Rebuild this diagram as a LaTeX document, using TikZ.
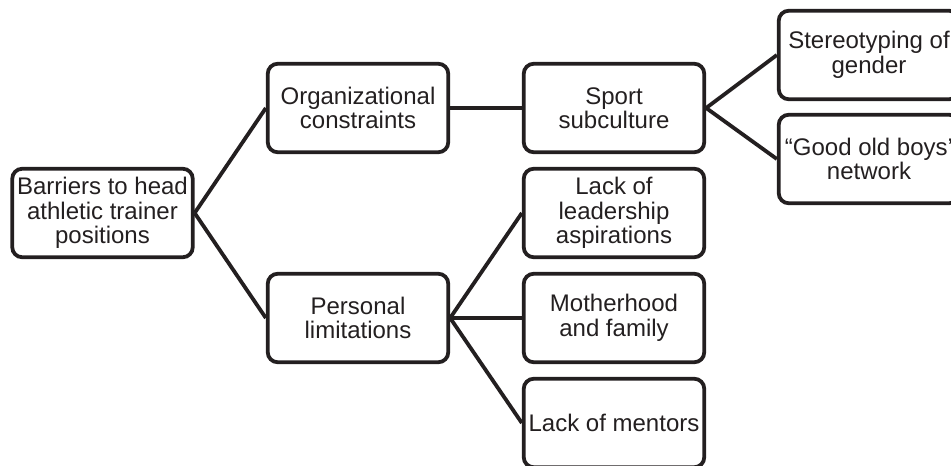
\documentclass[tikz,border=0pt]{standalone}
\usepackage{fontspec}
\setmainfont{Liberation Sans}
\usetikzlibrary{positioning}
\definecolor{boxline}{HTML}{231F20}

\begin{document}
\begin{tikzpicture}[x=1pt, y=-1pt, line width=3.8pt, draw=boxline, text=boxline,
    every node/.style={rectangle, draw=boxline, rounded corners=10pt, minimum width=180.5pt, minimum height=88.5pt, align=center, font=\fontsize{24}{24.5}\selectfont}]

    \path[use as bounding box, clip] (0,0) rectangle (951,466);

    % Root
    \node (B) at (102.5,213) {Barriers to head\\athletic trainer\\positions};

    % Second level
    \node (O) at (358,108) {Organizational\\constraints};
    \node (P) at (358,318) {Personal\\limitations};

    % Third level
    \node (S)  at (614,108) {Sport\\subculture};
    \node (L1) at (614,213) {Lack of\\leadership\\aspirations};
    \node (M)  at (614,318) {Motherhood\\and family};
    \node (L2) at (614,423) {Lack of mentors};

    % Fourth level
    \node (G1) at (869,55)  {Stereotyping of\\gender};
    \node (G2) at (869,159) {“Good old boys’\\network};

    % Edges
    \draw (B.east) -- (O.west);
    \draw (B.east) -- (P.west);
    \draw (O.east) -- (S.west);
    \draw (P.east) -- (L1.west);
    \draw (P.east) -- (M.west);
    \draw (P.east) -- (L2.west);
    \draw (S.east) -- (G1.west);
    \draw (S.east) -- (G2.west);
\end{tikzpicture}
\end{document}
